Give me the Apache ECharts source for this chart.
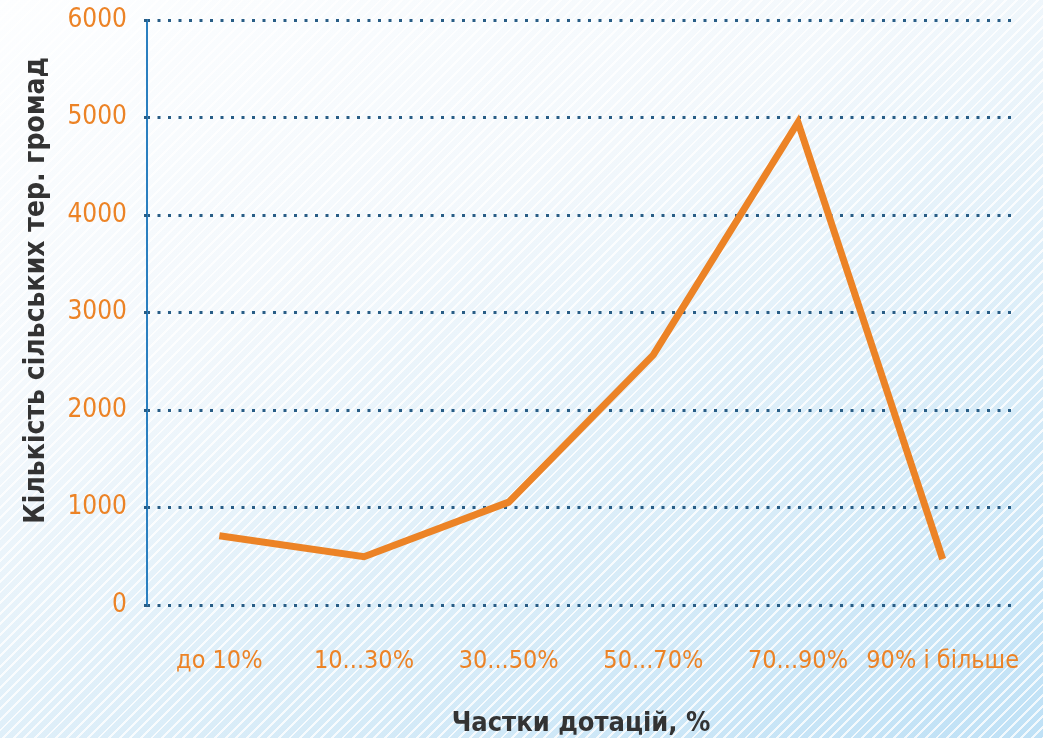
<!DOCTYPE html>
<html>
<head>
<meta charset="utf-8">
<title>Частки дотацій</title>
<script src="https://cdn.jsdelivr.net/npm/echarts@6/dist/echarts.min.js"></script>
<style>
    html, body { margin: 0; padding: 0; }
    #main {
        width: 1043px;
        height: 738px;
        background:
            repeating-linear-gradient(135deg, rgba(255,255,255,0) 0px, rgba(255,255,255,0) 5.5px, rgba(255,255,255,0.8) 5.5px, rgba(255,255,255,0.8) 7.5px),
            linear-gradient(155deg, #fdfeff 0%, #f3f8fc 35%, #d8ecf8 70%, #bfe1f6 100%);
    }
</style>
</head>
<body>
<div id="main"></div>
<script>
    var categories = ['до 10%', '10...30%', '30...50%', '50...70%', '70...90%', '90% і більше'];
    var communities = [710, 495, 1055, 2565, 4950, 470];
    var yTicks = [0, 1000, 2000, 3000, 4000, 5000, 6000];

    var chartDom = document.getElementById('main');
    var myChart = echarts.init(chartDom);

    var orange = '#ec8326';
    var labelFont = '"DejaVu Sans Condensed", "Liberation Sans Narrow", sans-serif';
    // dotted grid, square dots about 10px apart
    var dots = { color: '#285d86', width: 3, type: [3, 7.5], cap: 'butt' };

    var option = {
        backgroundColor: 'transparent',
        grid: {
            left: 147,
            right: 28,
            top: 20,
            bottom: 133,
            containLabel: false,
            outerBoundsMode: 'none'
        },
        xAxis: {
            type: 'category',
            data: categories,
            boundaryGap: true,
            name: 'Частки дотацій, %',
            nameLocation: 'middle',
            nameGap: 105,
            nameTextStyle: {
                fontFamily: labelFont,
                fontWeight: 'bold',
                fontSize: 27,
                color: '#333333'
            },
            axisLine: { show: false },
            axisTick: { show: false },
            axisLabel: {
                interval: 0,
                margin: 44,
                fontFamily: labelFont,
                fontSize: 25,
                color: orange
            }
        },
        yAxis: {
            type: 'value',
            min: yTicks[0],
            max: yTicks[yTicks.length - 1],
            interval: 1000,
            name: 'Кількість сільських тер. громад',
            nameLocation: 'middle',
            nameGap: 96,
            nameTextStyle: {
                fontFamily: labelFont,
                fontWeight: 'bold',
                fontSize: 28,
                color: '#333333',
                padding: [0, 0, 0, 44]
            },
            axisLine: {
                show: true,
                lineStyle: { color: '#2a7fc0', width: 2 }
            },
            axisTick: {
                show: true,
                length: 8,
                lineStyle: dots
            },
            axisLabel: {
                margin: 20,
                fontFamily: labelFont,
                fontSize: 26,
                color: orange,
                formatter: function (v) { return String(v); }
            },
            splitLine: {
                show: true,
                lineStyle: dots
            }
        },
        series: [
            {
                name: 'Кількість громад',
                type: 'line',
                data: communities,
                symbol: 'none',
                lineStyle: {
                    color: orange,
                    width: 7,
                    join: 'miter'
                }
            }
        ]
    };

    myChart.setOption(option);
</script>
</body>
</html>
